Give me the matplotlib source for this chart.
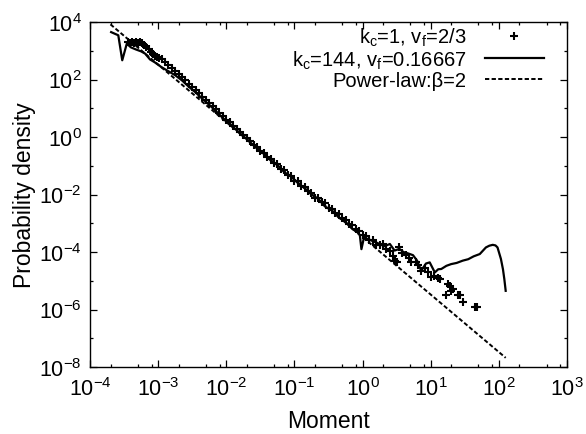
import matplotlib
matplotlib.use("Agg")
import matplotlib.pyplot as plt
import numpy as np
from matplotlib.ticker import FixedLocator, NullFormatter

plt.rcParams['font.family'] = ['Liberation Sans', 'DejaVu Sans']
plt.rcParams['mathtext.fontset'] = 'custom'
plt.rcParams['mathtext.rm'] = 'Liberation Sans'
plt.rcParams['mathtext.it'] = 'Liberation Sans'
plt.rcParams['font.size'] = 14.5

# log10(moment), log10(density)
pts_logx = [-3.44, -3.41, -3.38, -3.35, -3.32, -3.29, -3.26, -3.24, -3.21, -3.18,
            -3.14, -3.11, -3.08, -3.05, -3.02, -2.99,
            -2.95, -2.90, -2.85, -2.80, -2.75, -2.70, -2.65, -2.60, -2.55, -2.50,
            -2.45, -2.40, -2.35, -2.30, -2.25, -2.20, -2.15, -2.10, -2.05, -2.00,
            -1.95, -1.90, -1.85, -1.80, -1.75, -1.70, -1.65, -1.60, -1.55, -1.50,
            -1.45, -1.40, -1.35, -1.30, -1.25, -1.20, -1.15, -1.10, -1.05, -1.00,
            -0.95, -0.90, -0.85, -0.80, -0.75, -0.70, -0.65, -0.60, -0.55, -0.50,
            -0.45, -0.40, -0.35, -0.30, -0.25, -0.20, -0.15, -0.10, -0.05, 0.00,
            0.05, 0.10, 0.15, 0.20, 0.25, 0.30,
            0.34, 0.40, 0.444, 0.47, 0.50, 0.54, 0.58, 0.63, 0.68, 0.714,
            0.78, 0.82, 0.86, 0.92, 0.96, 1.01, 1.05, 1.10, 1.13, 1.22,
            1.25, 1.28, 1.30, 1.33, 1.40, 1.43, 1.47, 1.645, 1.68]
pts_logy = [3.30, 3.28, 3.30, 3.27, 3.31, 3.28, 3.30, 3.28, 3.20, 3.12,
            3.05, 2.95, 2.88, 2.83, 2.80, 2.76,
            2.71, 2.61, 2.50, 2.41, 2.29, 2.18, 2.09, 1.97, 1.86, 1.75,
            1.63, 1.53, 1.41, 1.30, 1.18, 1.07, 0.96, 0.84, 0.73, 0.61,
            0.51, 0.39, 0.29, 0.17, 0.08, -0.05, -0.13, -0.27, -0.34, -0.49,
            -0.55, -0.71, -0.75, -0.92, -0.94, -1.11, -1.15, -1.33, -1.34, -1.52,
            -1.53, -1.71, -1.74, -1.89, -1.93, -2.11, -2.12, -2.27, -2.31, -2.46,
            -2.50, -2.65, -2.69, -2.83, -2.87, -3.04, -3.07, -3.21, -3.26, -3.41,
            -3.44, -3.57, -3.59, -3.74, -3.74, -3.72,
            -3.90, -3.95, -4.13, -4.30, -4.36, -3.84, -4.05, -4.10, -4.20, -4.36,
            -4.35, -4.45, -4.65, -4.55, -4.70, -4.88, -4.85, -4.90, -4.94, -5.50,
            -5.10, -5.17, -5.35, -5.30, -5.50, -5.48, -5.75, -5.92, -5.92]

line_logx = [-3.69, -3.585, -3.527, -3.46, -3.40, -3.33, -3.25, -3.19, -3.12, -3.05,
             -2.95, -2.85, -2.75, -2.65, -2.55, -2.45, -2.35, -2.25, -2.15, -2.05,
             -1.95, -1.85, -1.75, -1.65, -1.55, -1.45, -1.35, -1.25, -1.15, -1.05,
             -0.95, -0.85, -0.75, -0.65, -0.55, -0.45, -0.35, -0.25, -0.15, -0.08,
             -0.04, -0.017, 0.02, 0.08, 0.15, 0.25, 0.32, 0.40, 0.47, 0.54,
             0.60, 0.67, 0.74, 0.80, 0.86, 0.93, 0.985, 1.06, 1.11, 1.155,
             1.23, 1.30, 1.38, 1.47, 1.55, 1.63, 1.72, 1.81, 1.86, 1.91,
             1.95, 1.98, 2.03, 2.06, 2.08, 2.10]
line_logy = [3.65, 3.54, 2.67, 3.25, 3.12, 3.05, 2.98, 2.90, 2.70, 2.60,
             2.43, 2.29, 2.15, 1.97, 1.75, 1.55, 1.33, 1.12, 0.90, 0.66,
             0.47, 0.24, 0.03, -0.18, -0.40, -0.58, -0.81, -0.98, -1.22, -1.37,
             -1.60, -1.78, -2.00, -2.15, -2.42, -2.55, -2.80, -2.95, -3.20, -3.30,
             -3.42, -3.90, -3.50, -3.55, -3.62, -3.72, -3.80, -3.72, -3.95, -3.89,
             -4.00, -4.05, -4.11, -4.30, -4.65, -4.40, -4.36, -4.71, -4.60, -4.59,
             -4.48, -4.42, -4.38, -4.30, -4.25, -4.15, -4.07, -3.84, -3.78, -3.75,
             -3.77, -3.84, -4.24, -4.60, -4.94, -5.35]

# power-law beta=2 reference line, end points
pl_logx = [-3.70, 2.10]
pl_logy = [3.92, -7.68]

fig = plt.figure(figsize=(5.86, 4.35), dpi=100)
ax = fig.add_axes([0.1536, 0.154, 0.814, 0.793])

ax.plot(10.0 ** np.array(pts_logx), 10.0 ** np.array(pts_logy), '+', color='black',
        ms=5.5, mew=1.5, label=r'k$_{\mathrm{c}}$=1, v$_{\mathrm{f}}$=2/3')
ax.plot(10.0 ** np.array(line_logx), 10.0 ** np.array(line_logy), '-', color='black',
        lw=1.6, label=r'k$_{\mathrm{c}}$=144, v$_{\mathrm{f}}$=0.16667')
ax.plot(10.0 ** np.array(pl_logx), 10.0 ** np.array(pl_logy), color='black',
        lw=1.4, dashes=(2.2, 1.2), label='Power-law:β=2')

ax.set_xscale('log')
ax.set_yscale('log')
ax.set_xlim(1e-4, 1e3)
ax.set_ylim(1e-8, 1e4)

xt = list(range(-4, 4))
ax.set_xticks([10.0 ** k for k in xt])
ax.set_xticklabels([r'$10^{%d}$' % k for k in xt])
ax.xaxis.set_minor_locator(FixedLocator([s * 10.0 ** k for k in range(-4, 3) for s in (2, 5, 8)]))
ax.xaxis.set_minor_formatter(NullFormatter())

yt = list(range(-8, 5, 2))
ax.set_yticks([10.0 ** k for k in yt])
ax.set_yticklabels([r'$10^{%d}$' % k for k in yt])
ax.yaxis.set_minor_locator(FixedLocator([10.0 ** k for k in range(-7, 4, 2)]))
ax.yaxis.set_minor_formatter(NullFormatter())

ax.tick_params(which='both', direction='in', top=True, right=True, labelsize=15.5)
ax.tick_params(axis='x', pad=7)
ax.tick_params(axis='y', pad=6)
ax.tick_params(which='major', length=5, width=0.9)
ax.tick_params(which='minor', length=2.5, width=0.9)
for s in ax.spines.values():
    s.set_linewidth(1.0)

ax.set_xlabel('Moment', fontsize=16.5, labelpad=7)
ax.set_ylabel('Probability density', fontsize=16.5, labelpad=2)

ax.legend(loc='upper right', bbox_to_anchor=(0.968, 1.012), markerfirst=False,
          frameon=False, fontsize=14.5, handlelength=2.9, handletextpad=0.95,
          labelspacing=0.0, borderaxespad=0.0, numpoints=1)

fig.savefig('out.png', dpi=100)
